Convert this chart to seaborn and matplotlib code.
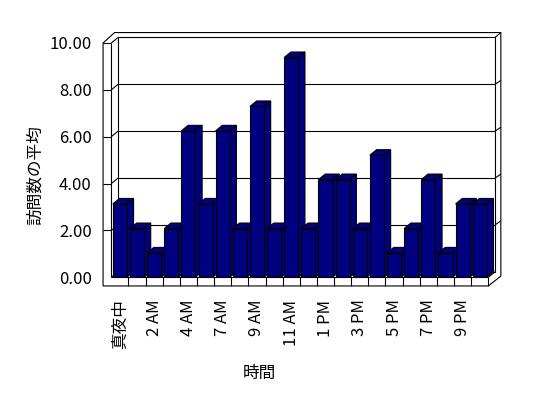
import matplotlib
matplotlib.use("Agg")
import matplotlib.pyplot as plt
from matplotlib.patches import Polygon, Rectangle
import pandas as pd
import seaborn as sns

# hours shown on the x axis (6 AM and 11 PM have no data)
hours = ["真夜中", "1 AM", "2 AM", "3 AM", "4 AM", "5 AM", "7 AM", "8 AM",
         "9 AM", "10 AM", "11 AM", "正午", "1 PM", "2 PM", "3 PM", "4 PM",
         "5 PM", "6 PM", "7 PM", "8 PM", "9 PM", "10 PM"]
visits = [3.13, 2.08, 1.04, 2.08, 6.25, 3.13, 6.25, 2.08, 7.29, 2.08, 9.38,
          2.08, 4.17, 4.17, 2.08, 5.21, 1.04, 2.08, 4.17, 1.04, 3.13, 3.13]
y_ticks = [0, 2, 4, 6, 8, 10]

BAR_COLOR = "#000080"
LW = 0.8
# fake 3d depth (data units)
DX, DY = 0.39, 0.235
WALL, FLOOR = 0.48, 0.37
BACK_T, RIGHT_T = 0.21, 0.34


def line(ax, p, q, z=2):
    ax.plot([p[0], q[0]], [p[1], q[1]], color="black", lw=LW,
            zorder=z, clip_on=False, solid_capstyle="butt")


def draw_frame(ax, n):
    x0, x1, y0, y1 = -0.5, n - 0.5, 0, y_ticks[-1]
    bx0, bx1, by0, by1 = x0 + DX, x1 + DX, y0 + DY, y1 + DY

    outer = [(x0 - WALL, y0 - FLOOR), (x0 - WALL, y1),
             (bx0 - 0.2, by1 + BACK_T), (bx1 + RIGHT_T, by1 + BACK_T),
             (bx1 + RIGHT_T, y0 + 0.05), (x1, y0 - FLOOR)]
    ax.add_patch(Polygon(outer, closed=True, fc="white", ec="black", lw=LW,
                         zorder=1, clip_on=False))
    ax.add_patch(Rectangle((bx0, by0), bx1 - bx0, by1 - by0, fill=False,
                           ec="black", lw=LW, zorder=2, clip_on=False))

    # left wall and floor edges
    line(ax, (x0, y0), (x0, y1))
    line(ax, (x0 - WALL, y1), (x0, y1))
    line(ax, (x0, y1), (bx0, by1))
    line(ax, (x0, y0), (bx0, by0))
    line(ax, (x0, y0), (x1, y0))
    line(ax, (x1, y0), (x1, y0 - FLOOR))
    line(ax, (x1, y0), (bx1, by0))
    line(ax, (bx1, by1), (bx1 + RIGHT_T, by1 + BACK_T))

    # gridlines on back wall, side wall and wall edges
    for v in y_ticks[1:-1]:
        line(ax, (bx0, v + DY), (bx1, v + DY))
        line(ax, (x0, v), (bx0, v + DY))
        line(ax, (x0 - WALL, v), (x0, v))
        line(ax, (bx1, v + DY), (bx1 + RIGHT_T, v + DY + 0.17))

    # category boxes on the floor edge
    for i in range(1, n):
        line(ax, (i - 0.5, y0), (i - 0.5, y0 - FLOOR))


def main():
    sns.set_style("white")
    plt.rcParams["font.family"] = ["Liberation Sans Narrow", "Noto Sans CJK JP", "DejaVu Sans"]
    plt.rcParams["font.size"] = 12
    for key in ("text.color", "axes.labelcolor", "xtick.color", "ytick.color"):
        plt.rcParams[key] = "black"

    df = pd.DataFrame({"hour": hours, "visits": visits})

    fig = plt.figure(figsize=(5.48, 3.98), dpi=100)
    ax = fig.add_axes([0.2031, 0.3033, 0.688, 0.5887])

    sns.barplot(data=df, x="hour", y="visits", color=BAR_COLOR, saturation=1,
                width=0.82, errorbar=None, edgecolor="black", linewidth=LW, ax=ax)

    # side and top faces for the 3d look
    for i, bar in enumerate(list(ax.patches)):
        x, w, h = bar.get_x(), bar.get_width(), bar.get_height()
        z = 5 + 2 * i
        bar.set_zorder(z + 1)
        side = [(x + w, 0), (x + w + DX, DY), (x + w + DX, h + DY), (x + w, h)]
        top = [(x, h), (x + DX, h + DY), (x + w + DX, h + DY), (x + w, h)]
        for pts in (side, top):
            ax.add_patch(Polygon(pts, closed=True, fc=BAR_COLOR, ec="black",
                                 lw=LW, zorder=z, clip_on=False))

    draw_frame(ax, len(hours))

    ax.set_xlim(-0.5, len(hours) - 0.5)
    ax.set_ylim(0, y_ticks[-1])
    for s in ax.spines.values():
        s.set_visible(False)

    ax.set_yticks(y_ticks)
    ax.set_yticklabels([f"{v:.2f}" for v in y_ticks])
    ax.set_xticks(range(0, len(hours), 2))
    ax.set_xticklabels(hours[::2], rotation=90)
    ax.tick_params(axis="y", length=0, pad=14)
    ax.tick_params(axis="x", length=0, pad=16)

    ax.set_xlabel("時間")
    ax.xaxis.set_label_coords(0.392, -0.375)
    ax.set_ylabel("訪問数の平均", va="center")
    ax.yaxis.set_label_coords(-0.2024, 0.4366)

    fig.savefig("out.png", dpi=100, facecolor="white")


if __name__ == "__main__":
    main()
